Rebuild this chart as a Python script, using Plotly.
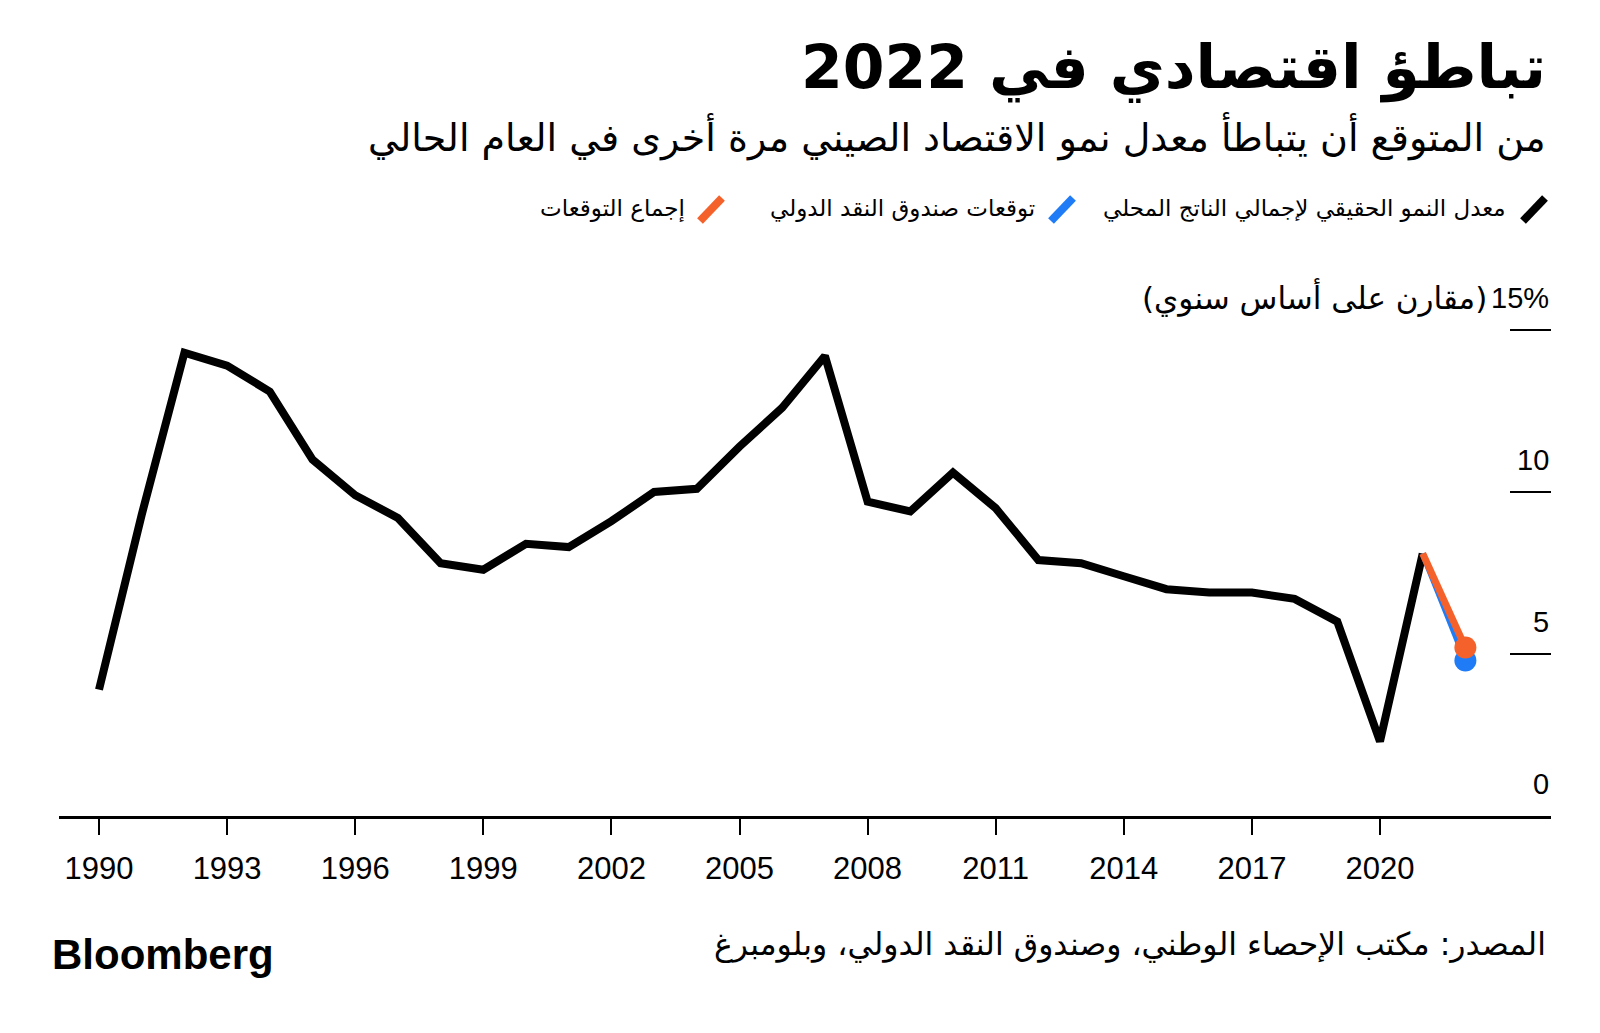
import plotly.graph_objects as go

years = list(range(1990, 2022))
gdp_growth = [3.9, 9.3, 14.3, 13.9, 13.1, 11.0, 9.9, 9.2, 7.8, 7.6,
              8.4, 8.3, 9.1, 10.0, 10.1, 11.4, 12.6, 14.2, 9.7, 9.4,
              10.6, 9.5, 7.9, 7.8, 7.4, 7.0, 6.9, 6.9, 6.7, 6.0,
              2.3, 8.1]
forecast_years = [2021, 2022]
imf_forecast = [8.1, 4.8]
consensus_forecast = [8.1, 5.2]
y_ticks = [0, 5, 10, 15]
y_tick_labels = ["0", "5", "10", "15%"]
x_ticks = list(range(1990, 2021, 3))

title = "تباطؤ اقتصادي في 2022"
subtitle = "من المتوقع أن يتباطأ معدل نمو الاقتصاد الصيني مرة أخرى في العام الحالي"
legend_names = ["معدل النمو الحقيقي لإجمالي الناتج المحلي", "توقعات صندوق النقد الدولي", "إجماع التوقعات"]
unit_label = "(مقارن على أساس سنوي)"
source = "المصدر: مكتب الإحصاء الوطني، وصندوق النقد الدولي، وبلومبرغ"

BLACK = "#000000"
BLUE = "#1F7CF6"
ORANGE = "#F4612B"

# page body has an 8px margin; figure is sized to fit the window
OFF = 8
W, H = 1600 - 2 * OFF, 1033 - 2 * OFF
# plot area in page pixels: x 59..1551, y 300..816
ML = 59 - OFF
MR = W - (1551 - OFF)
MT = 300 - OFF
MB = H - (816 - OFF)
PW = W - ML - MR
PH = H - MT - MB

def px(x):
    return (x - OFF - ML) / PW

def py(y):
    return (H - MB - (y - OFF)) / PH

ARFONT = "DejaVu Sans"
NUMFONT = "Liberation Sans, Arial, sans-serif"

fig = go.Figure()
fig.add_trace(go.Scatter(x=years, y=gdp_growth, mode="lines",
                         line=dict(color=BLACK, width=8), showlegend=False))
fig.add_trace(go.Scatter(x=forecast_years, y=imf_forecast, mode="lines+markers",
                         line=dict(color=BLUE, width=6),
                         marker=dict(size=[0, 22], color=BLUE, opacity=1, line=dict(width=0)),
                         showlegend=False))
fig.add_trace(go.Scatter(x=forecast_years, y=consensus_forecast, mode="lines+markers",
                         line=dict(color=ORANGE, width=7),
                         marker=dict(size=[0, 22], color=ORANGE, opacity=1, line=dict(width=0)),
                         showlegend=False))

shapes = []
annotations = []
for v, lab in zip(y_ticks, y_tick_labels):
    if v > 0:
        shapes.append(dict(type="line", xref="paper", yref="y", x0=px(1510), x1=1,
                           y0=v, y1=v, line=dict(color=BLACK, width=2)))
    annotations.append(dict(xref="paper", yref="y", x=1, y=v, xanchor="right", yanchor="bottom",
                            yshift=14, text=lab, showarrow=False,
                            font=dict(family=NUMFONT, size=29, color=BLACK)))
annotations.append(dict(xref="paper", yref="y", x=px(1489), y=15, xanchor="right", yanchor="bottom",
                        yshift=11, text=unit_label, showarrow=False,
                        font=dict(family=ARFONT, size=31, color=BLACK)))

# title / subtitle
annotations.append(dict(xref="paper", yref="paper", x=px(1548), y=py(67), xanchor="right", yanchor="middle",
                        text="<b>" + title + "</b>", showarrow=False,
                        font=dict(family=ARFONT, size=60, color=BLACK)))
annotations.append(dict(xref="paper", yref="paper", x=px(1548), y=py(136), xanchor="right", yanchor="middle",
                        text=subtitle, showarrow=False,
                        font=dict(family=ARFONT, size=38, color=BLACK)))

# legend
legend_items = [(BLACK, 1520, 1508), (BLUE, 1048, 1037), (ORANGE, 697, 687)]
for (col, icon_x, text_r), name in zip(legend_items, legend_names):
    shapes.append(dict(type="line", xref="paper", yref="paper",
                       x0=px(icon_x + 3), y0=py(221), x1=px(icon_x + 25), y1=py(198),
                       line=dict(color=col, width=8)))
    annotations.append(dict(xref="paper", yref="paper", x=px(text_r), y=py(209), xanchor="right",
                            yanchor="middle", text=name, showarrow=False,
                            font=dict(family=ARFONT, size=23, color=BLACK)))

# footer
annotations.append(dict(xref="paper", yref="paper", x=px(1548), y=py(944), xanchor="right", yanchor="middle",
                        text=source, showarrow=False,
                        font=dict(family=ARFONT, size=31.5, color=BLACK)))
annotations.append(dict(xref="paper", yref="paper", x=px(50), y=py(954), xanchor="left", yanchor="middle",
                        text="<b>Bloomberg</b>", showarrow=False,
                        font=dict(family=NUMFONT, size=42, color=BLACK)))

fig.update_layout(
    width=W, height=H,
    margin=dict(l=ML, r=MR, t=MT, b=MB),
    paper_bgcolor="white", plot_bgcolor="white",
    shapes=shapes, annotations=annotations,
    xaxis=dict(range=[1989.063, 2024.005], tickvals=x_ticks, ticks="outside", ticklen=16,
               tickwidth=2, tickcolor=BLACK, showline=True, linecolor=BLACK, linewidth=3,
               showgrid=False, zeroline=False, ticklabelstandoff=7,
               tickfont=dict(family=NUMFONT, size=31, color=BLACK)),
    yaxis=dict(range=[0, PH / 32.4], showticklabels=False, showgrid=False, zeroline=False,
               showline=False, ticks=""),
)

fig.write_html("out.html")
